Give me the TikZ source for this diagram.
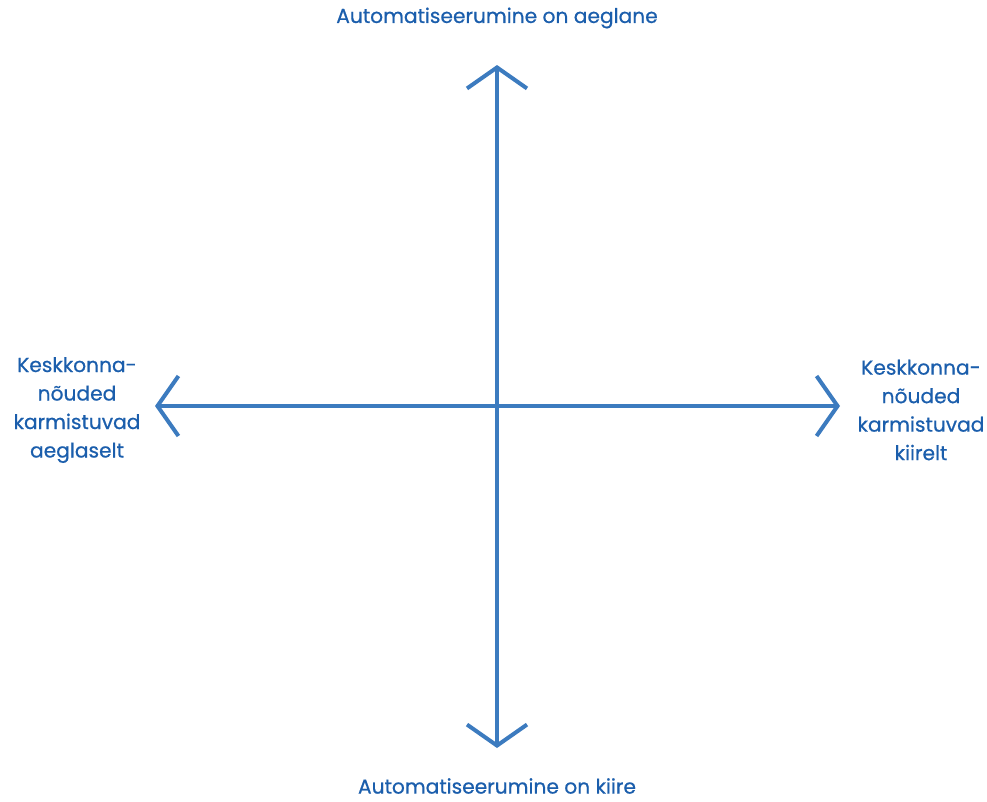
\documentclass[tikz,border=0pt]{standalone}
\usepackage{fontspec}
\setmainfont{Poppins}[FakeBold=0.6]
\usetikzlibrary{arrows.meta}
\definecolor{axisblue}{HTML}{3C7BBF}
\definecolor{labelblue}{HTML}{1B5EAC}
\begin{document}
\begin{tikzpicture}[x=1pt, y=-1pt,
    axis/.style={line width=4pt, axisblue, {Straight Barb[length=21pt,width=60pt]}-{Straight Barb[length=21pt,width=60pt]}},
    axislabel/.style={text=labelblue, font=\fontsize{20.2}{28.5}\selectfont, align=center, inner sep=0pt}]
    \useasboundingbox (0,0) rectangle (987,801);

    % Ends of the axes
    \coordinate (top) at (497,65);
    \coordinate (bottom) at (497,748);
    \coordinate (left) at (155,406);
    \coordinate (right) at (840,406);

    % Axes
    \draw[axis] (bottom) -- (top);
    \draw[axis] (left) -- (right);

    % Labels
    \node[axislabel] (slow) at (497,18) {Automatiseerumine on aeglane};
    \node[axislabel] (fast) at (497,786) {Automatiseerumine on kiire};
    \node[axislabel] (weak) at (77,410) {Keskkonna-\\nõuded\\karmistuvad\\aeglaselt};
    \node[axislabel] (strong) at (921,410) {Keskkonna-\\nõuded\\karmistuvad\\kiirelt};
\end{tikzpicture}
\end{document}
